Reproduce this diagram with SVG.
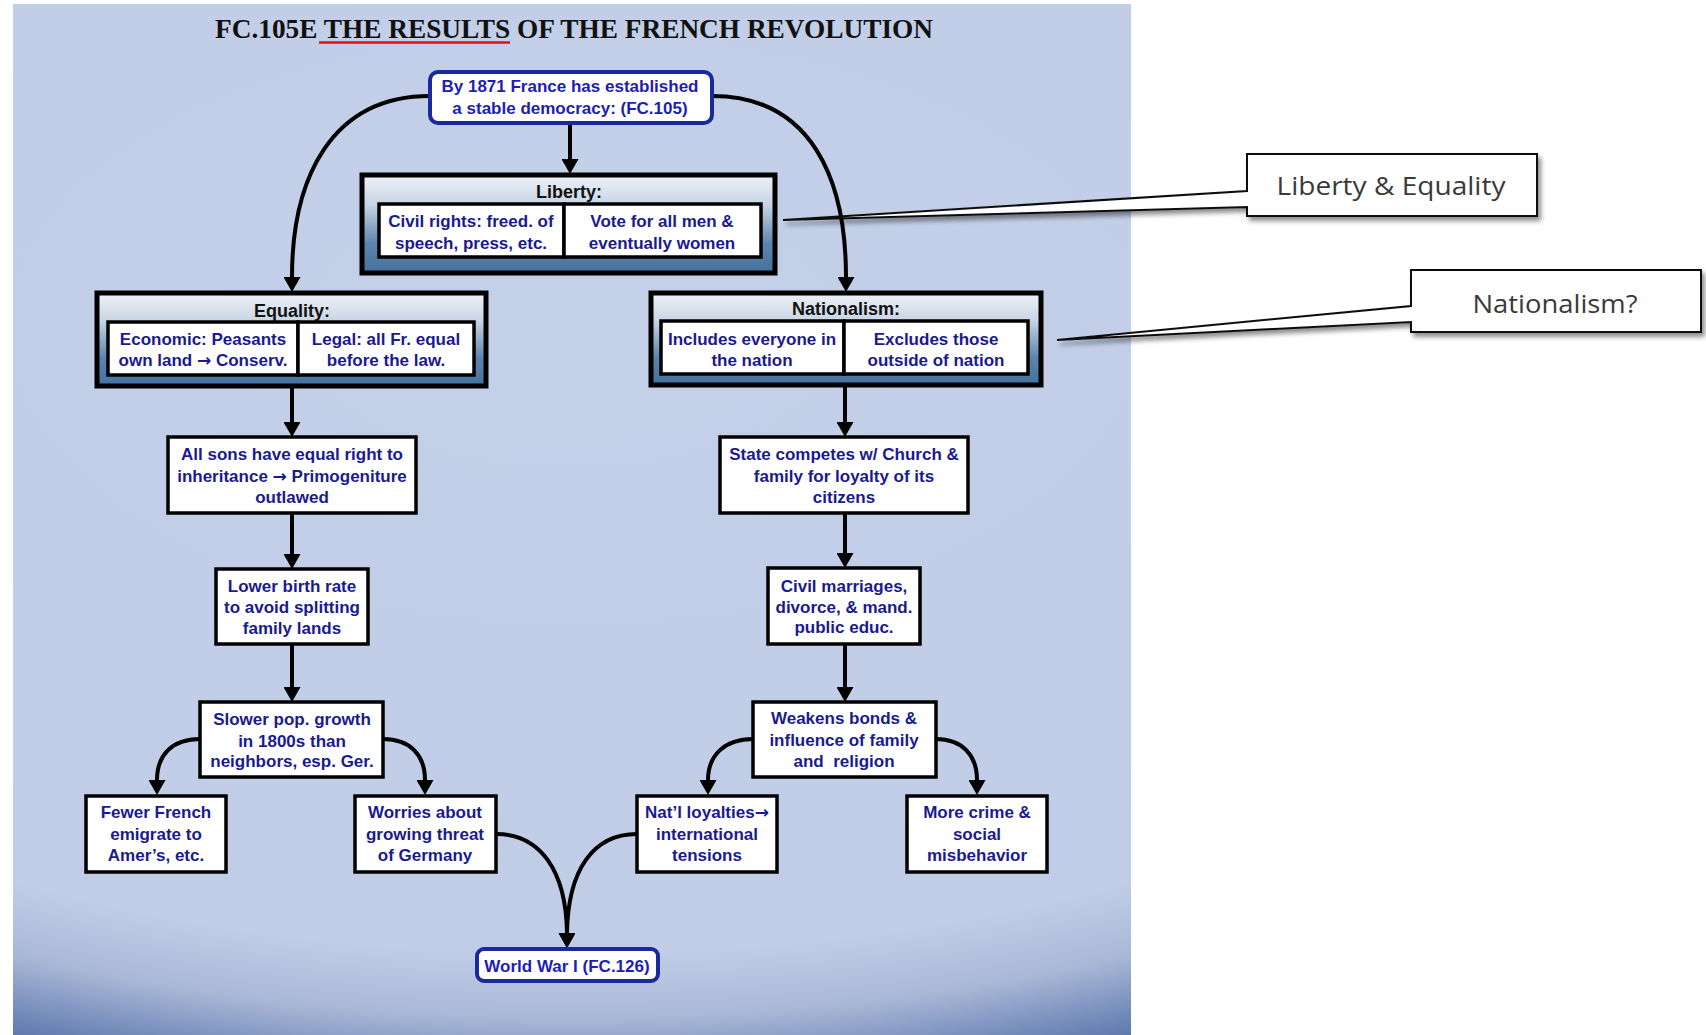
<svg xmlns="http://www.w3.org/2000/svg" width="1706" height="1035" viewBox="0 0 1706 1035">
<defs>
<radialGradient id="bg" gradientUnits="userSpaceOnUse" cx="572" cy="330" r="800" gradientTransform="translate(572 330) scale(1.924 1) translate(-572 -330)">
<stop offset="0" stop-color="#c4d0e8"/>
<stop offset="0.78" stop-color="#c1cde7"/>
<stop offset="0.86" stop-color="#aab8d7"/>
<stop offset="0.93" stop-color="#7088b8"/>
<stop offset="1" stop-color="#3f5b92"/>
</radialGradient>
<linearGradient id="grp" x1="0" y1="0" x2="0" y2="1">
<stop offset="0" stop-color="#eef2f8"/>
<stop offset="0.3" stop-color="#c9d5e4"/>
<stop offset="0.7" stop-color="#5d84ae"/>
<stop offset="1" stop-color="#45719e"/>
</linearGradient>
<marker id="ah" viewBox="0 0 10 10" refX="0" refY="5" markerUnits="userSpaceOnUse" markerWidth="15" markerHeight="17" orient="auto" preserveAspectRatio="none">
<path d="M0,0 L10,5 L0,10 Z" fill="#000"/>
</marker>
<filter id="sh" x="-10%" y="-20%" width="130%" height="160%">
<feGaussianBlur in="SourceAlpha" stdDeviation="2.5"/>
<feOffset dx="3" dy="4" result="b"/>
<feComponentTransfer><feFuncA type="linear" slope="0.45"/></feComponentTransfer>
<feMerge><feMergeNode/><feMergeNode in="SourceGraphic"/></feMerge>
</filter>
</defs>
<style>
.t{font-family:"Liberation Sans",Arial,sans-serif;font-weight:bold;font-size:17px;fill:#1a1a92;text-anchor:middle}
.tb{font-family:"Liberation Sans",Arial,sans-serif;font-weight:bold;font-size:18px;fill:#111;text-anchor:middle}
.tt{font-family:"Liberation Sans",Arial,sans-serif;font-weight:bold;font-size:17px;fill:#1e1eb4;text-anchor:middle}
.ar{font-family:"DejaVu Sans",sans-serif;font-weight:bold}
.box{fill:#fff;stroke:#000;stroke-width:3.5}
.rbox{fill:#fff;stroke:#1a2a9e;stroke-width:4}
.grp{fill:url(#grp);stroke:#000;stroke-width:5}
.cell{fill:#fff;stroke:#000;stroke-width:3.5}
.c{fill:none;stroke:#000;stroke-width:4;marker-end:url(#ah)}
.co{fill:#fff;stroke:#111;stroke-width:2;filter:url(#sh)}
.ct{font-family:"Open Sans","Liberation Sans",sans-serif;font-size:26px;fill:#3a3a3a;text-anchor:middle}
</style>
<rect x="13" y="4" width="1118" height="1031" fill="url(#bg)"/>
<g id="title">
<text x="574" y="38" text-anchor="middle" font-family="'Liberation Serif','Times New Roman',serif" font-weight="bold" font-size="28" fill="#111" textLength="718" lengthAdjust="spacingAndGlyphs">FC.105E THE RESULTS OF THE FRENCH REVOLUTION</text>
<line x1="319" y1="42.5" x2="510" y2="42.5" stroke="#e01010" stroke-width="2.5"/>
</g>
<g id="connectors">
<path class="c" d="M570,123 V159"/>
<path class="c" d="M430,96 C330,96 292,180 292,277"/>
<path class="c" d="M712,96 C812,96 846,180 846,277"/>
<path class="c" d="M292,386 V422"/>
<path class="c" d="M292,513 V554"/>
<path class="c" d="M292,644 V687"/>
<path class="c" d="M845,385 V422"/>
<path class="c" d="M845,513 V553"/>
<path class="c" d="M845,644 V687"/>
<path class="c" d="M200,739 C172,739 157,755 157,780"/>
<path class="c" d="M383,739 C410,739 425,755 425,780"/>
<path class="c" d="M753,739 C725,739 708,755 708,780"/>
<path class="c" d="M936,739 C962,739 977,755 977,780"/>
<path class="c" d="M496,834 C540,834 566,870 567,933"/>
<path class="c" d="M637,834 C593,834 568,870 567,933"/>
</g>
<g id="n-top">
<rect class="rbox" x="430" y="72" width="282" height="51" rx="8"/>
<text class="tt" x="570" y="92">By 1871 France has established</text>
<text class="tt" x="570" y="114">a stable democracy: (FC.105)</text>
</g>
<g id="n-liberty">
<rect class="grp" x="362" y="175" width="413" height="98"/>
<text class="tb" x="569" y="198">Liberty:</text>
<rect class="cell" x="379" y="204" width="185" height="53"/>
<rect class="cell" x="564" y="204" width="197" height="53"/>
<text class="t" x="471" y="227">Civil rights: freed. of</text>
<text class="t" x="471" y="249">speech, press, etc.</text>
<text class="t" x="662" y="227">Vote for all men &amp;</text>
<text class="t" x="662" y="249">eventually women</text>
</g>
<g id="n-equality">
<rect class="grp" x="97" y="293" width="389" height="93"/>
<text class="tb" x="292" y="317">Equality:</text>
<rect class="cell" x="108" y="322" width="190" height="53"/>
<rect class="cell" x="298" y="322" width="176" height="53"/>
<text class="t" x="203" y="345">Economic: Peasants</text>
<text class="t" x="203" y="366">own land <tspan class="ar">→</tspan> Conserv.</text>
<text class="t" x="386" y="345">Legal: all Fr. equal</text>
<text class="t" x="386" y="366">before the law.</text>
</g>
<g id="n-nationalism">
<rect class="grp" x="651" y="293" width="390" height="92"/>
<text class="tb" x="846" y="315">Nationalism:</text>
<rect class="cell" x="661" y="321" width="183" height="53"/>
<rect class="cell" x="844" y="321" width="184" height="53"/>
<text class="t" x="752" y="345">Includes everyone in</text>
<text class="t" x="752" y="366">the nation</text>
<text class="t" x="936" y="345">Excludes those</text>
<text class="t" x="936" y="366">outside of nation</text>
</g>
<g id="n-sons">
<rect class="box" x="168" y="437" width="248" height="76"/>
<text class="t" x="292" y="460">All sons have equal right to</text>
<text class="t" x="292" y="482">inheritance <tspan class="ar">→</tspan> Primogeniture</text>
<text class="t" x="292" y="503">outlawed</text>
</g>
<g id="n-birth">
<rect class="box" x="216" y="569" width="152" height="75"/>
<text class="t" x="292" y="592">Lower birth rate</text>
<text class="t" x="292" y="613">to avoid splitting</text>
<text class="t" x="292" y="634">family lands</text>
</g>
<g id="n-slower">
<rect class="box" x="200" y="702" width="183" height="75"/>
<text class="t" x="292" y="725">Slower pop. growth</text>
<text class="t" x="292" y="747">in 1800s than</text>
<text class="t" x="292" y="767">neighbors, esp. Ger.</text>
</g>
<g id="n-fewer">
<rect class="box" x="86" y="796" width="140" height="76"/>
<text class="t" x="156" y="818">Fewer French</text>
<text class="t" x="156" y="840">emigrate to</text>
<text class="t" x="156" y="861">Amer’s, etc.</text>
</g>
<g id="n-worries">
<rect class="box" x="355" y="796" width="141" height="76"/>
<text class="t" x="425" y="818">Worries about</text>
<text class="t" x="425" y="840">growing threat</text>
<text class="t" x="425" y="861">of Germany</text>
</g>
<g id="n-state">
<rect class="box" x="720" y="437" width="248" height="76"/>
<text class="t" x="844" y="460">State competes w/ Church &amp;</text>
<text class="t" x="844" y="482">family for loyalty of its</text>
<text class="t" x="844" y="503">citizens</text>
</g>
<g id="n-civil">
<rect class="box" x="768" y="568" width="152" height="76"/>
<text class="t" x="844" y="592">Civil marriages,</text>
<text class="t" x="844" y="613">divorce, &amp; mand.</text>
<text class="t" x="844" y="633">public educ.</text>
</g>
<g id="n-weakens">
<rect class="box" x="753" y="702" width="183" height="75"/>
<text class="t" x="844" y="724">Weakens bonds &amp;</text>
<text class="t" x="844" y="746">influence of family</text>
<text class="t" x="844" y="767" xml:space="preserve">and  religion</text>
</g>
<g id="n-natl">
<rect class="box" x="637" y="796" width="140" height="76"/>
<text class="t" x="707" y="818">Nat’l loyalties<tspan class="ar">→</tspan></text>
<text class="t" x="707" y="840">international</text>
<text class="t" x="707" y="861">tensions</text>
</g>
<g id="n-crime">
<rect class="box" x="907" y="796" width="140" height="76"/>
<text class="t" x="977" y="818">More crime &amp;</text>
<text class="t" x="977" y="840">social</text>
<text class="t" x="977" y="861">misbehavior</text>
</g>
<g id="n-wwi">
<rect class="rbox" x="477" y="949" width="181" height="32" rx="7"/>
<text class="tt" x="567" y="972">World War I (FC.126)</text>
</g>
<g id="callout-liberty">
<path class="co" d="M1247,154 H1537 V216 H1247 V207 L783,220 L1247,191 Z"/>
<text class="ct" x="1391" y="195" textLength="229" lengthAdjust="spacingAndGlyphs">Liberty &amp; Equality</text>
</g>
<g id="callout-nationalism">
<path class="co" d="M1411,270 H1701 V332 H1411 V322 L1057,340 L1411,306 Z"/>
<text class="ct" x="1555" y="313" textLength="165" lengthAdjust="spacingAndGlyphs">Nationalism?</text>
</g>
</svg>
